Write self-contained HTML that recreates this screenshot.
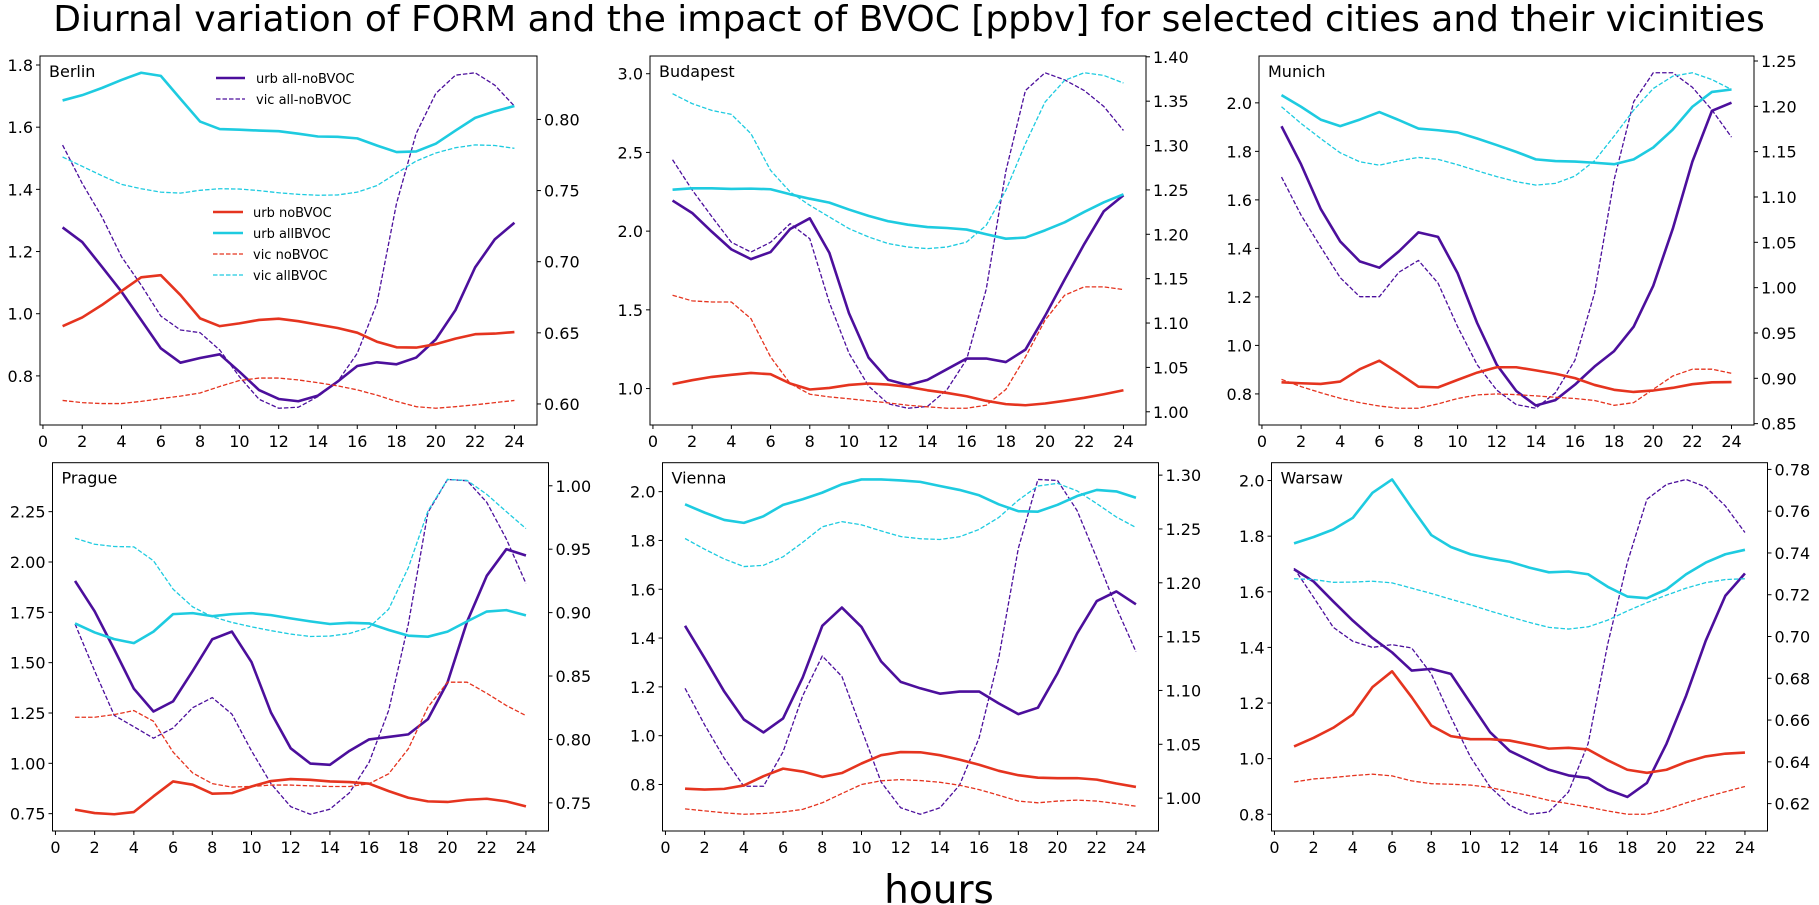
<!DOCTYPE html>
<html><head><meta charset="utf-8">
<style>
html,body{margin:0;padding:0;background:#fff;}
svg{display:block;font-family:"DejaVu Sans","Liberation Sans",sans-serif;}
</style></head>
<body>
<svg id="fig" width="1819" height="905" viewBox="0 0 1819 905" xmlns="http://www.w3.org/2000/svg">
<text x="909" y="31" font-size="36" text-anchor="middle" fill="#000">Diurnal variation of FORM and the impact of BVOC [ppbv] for selected cities and their vicinities</text>
<text x="939" y="903" font-size="39" text-anchor="middle" fill="#000">hours</text>
</svg>
<script>
const hours = [1,2,3,4,5,6,7,8,9,10,11,12,13,14,15,16,17,18,19,20,21,22,23,24];
const xTicks = [0,2,4,6,8,10,12,14,16,18,20,22,24];
const cityNames = ["Berlin","Budapest","Munich","Prague","Vienna","Warsaw"];

// Berlin
const berlinUrbNoBVOC = [0.960,0.988,1.028,1.073,1.117,1.124,1.060,0.985,0.960,0.969,0.980,0.984,0.976,0.965,0.954,0.939,0.910,0.892,0.891,0.902,0.920,0.934,0.936,0.941];
const berlinUrbAllBVOC = [1.686,1.703,1.726,1.752,1.775,1.765,1.691,1.618,1.594,1.592,1.589,1.587,1.579,1.570,1.569,1.564,1.541,1.520,1.522,1.547,1.589,1.630,1.651,1.668];
const berlinVicNoBVOC = [0.721,0.714,0.711,0.711,0.718,0.727,0.735,0.745,0.766,0.785,0.793,0.793,0.787,0.778,0.768,0.755,0.738,0.718,0.701,0.696,0.701,0.707,0.714,0.721];
const berlinVicAllBVOC = [1.504,1.474,1.444,1.416,1.402,1.391,1.388,1.397,1.402,1.401,1.396,1.389,1.384,1.381,1.382,1.391,1.412,1.452,1.491,1.517,1.534,1.543,1.541,1.532];
const berlinUrbDiff = [0.7241,0.7138,0.6965,0.6789,0.6590,0.6391,0.6290,0.6323,0.6349,0.6227,0.6098,0.6035,0.6019,0.6059,0.6157,0.6267,0.6293,0.6279,0.6326,0.6454,0.6660,0.6960,0.7157,0.7274];
const berlinVicDiff = [0.7820,0.7550,0.7316,0.7035,0.6836,0.6618,0.6520,0.6501,0.6379,0.6192,0.6033,0.5970,0.5977,0.6052,0.6157,0.6356,0.6707,0.7410,0.7902,0.8183,0.8311,0.8328,0.8241,0.8094];
const berlinLeftTicks = [0.8,1.0,1.2,1.4,1.6,1.8];
const berlinRightTicks = [0.60,0.65,0.70,0.75,0.80];

// Budapest
const budapestUrbNoBVOC = [1.028,1.053,1.074,1.087,1.099,1.091,1.032,0.994,1.004,1.023,1.032,1.025,1.011,0.989,0.972,0.951,0.922,0.901,0.894,0.905,0.922,0.941,0.964,0.989];
const budapestUrbAllBVOC = [2.263,2.272,2.272,2.268,2.270,2.266,2.234,2.206,2.181,2.137,2.097,2.063,2.041,2.026,2.020,2.010,1.980,1.952,1.959,2.005,2.056,2.122,2.183,2.234];
const budapestVicNoBVOC = [1.593,1.557,1.550,1.550,1.444,1.201,1.032,0.964,0.947,0.935,0.922,0.909,0.894,0.884,0.875,0.875,0.894,0.994,1.201,1.434,1.593,1.646,1.646,1.629];
const budapestVicAllBVOC = [2.873,2.810,2.767,2.742,2.619,2.386,2.249,2.164,2.090,2.016,1.963,1.921,1.899,1.889,1.899,1.931,2.037,2.259,2.556,2.820,2.958,3.006,2.989,2.941];
const budapestUrbDiff = [1.238,1.224,1.203,1.183,1.172,1.180,1.206,1.218,1.179,1.111,1.061,1.036,1.030,1.036,1.048,1.060,1.060,1.056,1.070,1.108,1.149,1.189,1.226,1.244];
const budapestVicDiff = [1.284,1.250,1.220,1.191,1.180,1.191,1.212,1.195,1.123,1.066,1.029,1.009,1.004,1.006,1.025,1.059,1.138,1.271,1.362,1.382,1.374,1.362,1.344,1.317];
const budapestLeftTicks = [1.0,1.5,2.0,2.5,3.0];
const budapestRightTicks = [1.00,1.05,1.10,1.15,1.20,1.25,1.30,1.35,1.40];

// Munich
const munichUrbNoBVOC = [0.848,0.844,0.841,0.851,0.902,0.937,0.885,0.830,0.827,0.858,0.888,0.910,0.910,0.897,0.883,0.865,0.837,0.817,0.808,0.814,0.825,0.840,0.848,0.849];
const munichUrbAllBVOC = [2.032,1.984,1.931,1.904,1.931,1.962,1.929,1.894,1.887,1.878,1.853,1.826,1.798,1.767,1.760,1.758,1.753,1.747,1.767,1.816,1.890,1.984,2.045,2.055];
const munichVicNoBVOC = [0.860,0.830,0.805,0.782,0.764,0.750,0.741,0.741,0.759,0.781,0.796,0.800,0.797,0.792,0.786,0.781,0.773,0.753,0.764,0.819,0.874,0.902,0.902,0.885];
const munichVicAllBVOC = [1.984,1.915,1.853,1.794,1.757,1.743,1.761,1.775,1.767,1.745,1.720,1.696,1.675,1.661,1.668,1.698,1.761,1.863,1.970,2.059,2.110,2.124,2.096,2.055];
const munichUrbDiff = [1.178,1.136,1.087,1.051,1.029,1.022,1.040,1.061,1.056,1.016,0.961,0.915,0.886,0.870,0.876,0.893,0.913,0.930,0.957,1.002,1.065,1.139,1.195,1.204];
const munichVicDiff = [1.122,1.080,1.045,1.011,0.990,0.990,1.017,1.030,1.005,0.957,0.915,0.887,0.871,0.867,0.884,0.920,0.994,1.119,1.205,1.237,1.237,1.221,1.196,1.166];
const munichLeftTicks = [0.8,1.0,1.2,1.4,1.6,1.8,2.0];
const munichRightTicks = [0.85,0.90,0.95,1.00,1.05,1.10,1.15,1.20,1.25];

// Prague
const pragueUrbNoBVOC = [0.770,0.753,0.747,0.758,0.836,0.910,0.894,0.849,0.852,0.885,0.912,0.922,0.918,0.910,0.907,0.899,0.862,0.829,0.811,0.808,0.819,0.824,0.811,0.786];
const pragueUrbAllBVOC = [1.695,1.650,1.617,1.597,1.654,1.741,1.746,1.731,1.741,1.746,1.736,1.720,1.705,1.692,1.698,1.695,1.662,1.634,1.629,1.654,1.705,1.754,1.761,1.735];
const pragueVicNoBVOC = [1.229,1.229,1.242,1.262,1.209,1.056,0.952,0.899,0.882,0.885,0.892,0.892,0.888,0.885,0.885,0.899,0.948,1.072,1.279,1.403,1.403,1.348,1.287,1.237];
const pragueVicAllBVOC = [2.118,2.088,2.077,2.075,2.006,1.865,1.777,1.728,1.700,1.678,1.659,1.642,1.630,1.632,1.645,1.675,1.766,1.972,2.253,2.410,2.405,2.336,2.250,2.166];
const pragueUrbDiff = [0.925,0.901,0.871,0.840,0.822,0.830,0.854,0.879,0.885,0.861,0.821,0.793,0.781,0.780,0.791,0.800,0.802,0.804,0.816,0.845,0.893,0.929,0.950,0.945];
const pragueVicDiff = [0.891,0.854,0.819,0.810,0.801,0.809,0.825,0.833,0.820,0.791,0.765,0.747,0.741,0.745,0.758,0.782,0.823,0.891,0.979,1.005,1.004,0.987,0.958,0.923];
const pragueLeftTicks = [0.75,1.00,1.25,1.50,1.75,2.00,2.25];
const pragueRightTicks = [0.75,0.80,0.85,0.90,0.95,1.00];

// Vienna
const viennaUrbNoBVOC = [0.783,0.779,0.782,0.796,0.834,0.865,0.853,0.831,0.847,0.886,0.920,0.933,0.932,0.920,0.902,0.881,0.856,0.838,0.828,0.826,0.826,0.820,0.804,0.790];
const viennaUrbAllBVOC = [1.948,1.914,1.884,1.872,1.899,1.946,1.969,1.996,2.030,2.050,2.050,2.046,2.040,2.023,2.007,1.985,1.948,1.920,1.918,1.946,1.982,2.007,2.001,1.975];
const viennaVicNoBVOC = [0.700,0.692,0.684,0.678,0.681,0.687,0.698,0.725,0.763,0.800,0.815,0.820,0.816,0.809,0.797,0.779,0.756,0.732,0.725,0.732,0.736,0.732,0.722,0.711];
const viennaVicAllBVOC = [1.808,1.764,1.724,1.693,1.698,1.733,1.792,1.856,1.877,1.864,1.839,1.816,1.807,1.804,1.815,1.845,1.894,1.965,2.023,2.034,2.003,1.951,1.896,1.853];
const viennaUrbDiff = [1.160,1.130,1.099,1.073,1.061,1.074,1.112,1.160,1.177,1.159,1.127,1.108,1.102,1.097,1.099,1.099,1.088,1.078,1.084,1.116,1.153,1.183,1.192,1.180];
const viennaVicDiff = [1.102,1.068,1.037,1.011,1.011,1.043,1.095,1.132,1.113,1.064,1.015,0.991,0.985,0.991,1.012,1.056,1.130,1.232,1.296,1.295,1.267,1.223,1.177,1.136];
const viennaLeftTicks = [0.8,1.0,1.2,1.4,1.6,1.8,2.0];
const viennaRightTicks = [1.00,1.05,1.10,1.15,1.20,1.25,1.30];

// Warsaw
const warsawUrbNoBVOC = [1.044,1.075,1.111,1.159,1.257,1.314,1.221,1.119,1.081,1.070,1.070,1.065,1.051,1.036,1.039,1.033,0.994,0.960,0.949,0.960,0.988,1.008,1.018,1.022];
const warsawUrbAllBVOC = [1.774,1.797,1.824,1.866,1.956,2.004,1.902,1.804,1.761,1.735,1.720,1.708,1.687,1.670,1.673,1.663,1.618,1.583,1.577,1.609,1.663,1.705,1.735,1.751];
const warsawVicNoBVOC = [0.916,0.927,0.932,0.939,0.944,0.938,0.920,0.910,0.908,0.905,0.896,0.881,0.867,0.850,0.838,0.826,0.812,0.800,0.800,0.817,0.841,0.862,0.881,0.900];
const warsawVicAllBVOC = [1.647,1.644,1.634,1.635,1.638,1.632,1.613,1.594,1.573,1.553,1.531,1.510,1.490,1.472,1.466,1.474,1.498,1.531,1.561,1.588,1.613,1.633,1.644,1.647];
const warsawUrbDiff = [0.7322,0.7263,0.7168,0.7076,0.6993,0.6924,0.6837,0.6845,0.6821,0.6681,0.6542,0.6452,0.6407,0.6362,0.6335,0.6323,0.6267,0.6232,0.6299,0.6487,0.6717,0.6980,0.7195,0.7302];
const warsawVicDiff = [0.7327,0.7187,0.7044,0.6977,0.6948,0.6961,0.6945,0.6821,0.6614,0.6423,0.6280,0.6192,0.6149,0.6160,0.6256,0.6487,0.6964,0.7354,0.7657,0.7728,0.7752,0.7716,0.7625,0.7498];
const warsawLeftTicks = [0.8,1.0,1.2,1.4,1.6,1.8,2.0];
const warsawRightTicks = [0.62,0.64,0.66,0.68,0.70,0.72,0.74,0.76,0.78];

const RED = "#e5341f", CYAN = "#1ecbe0", PURPLE = "#4c0f9c";
const svg = document.getElementById("fig");
const NS = "http://www.w3.org/2000/svg";
function mk(tag, attrs, parent) {
  const e = document.createElementNS(NS, tag);
  for (const k in attrs) e.setAttribute(k, attrs[k]);
  (parent || svg).appendChild(e);
  return e;
}

const panels = [
  {name: cityNames[0], box: [40, 56, 497, 369], data: [berlinUrbNoBVOC, berlinUrbAllBVOC, berlinVicNoBVOC, berlinVicAllBVOC, berlinUrbDiff, berlinVicDiff], lt: berlinLeftTicks, rt: berlinRightTicks, ld: 1, rd: 2},
  {name: cityNames[1], box: [650, 56, 496, 369], data: [budapestUrbNoBVOC, budapestUrbAllBVOC, budapestVicNoBVOC, budapestVicAllBVOC, budapestUrbDiff, budapestVicDiff], lt: budapestLeftTicks, rt: budapestRightTicks, ld: 1, rd: 2},
  {name: cityNames[2], box: [1259, 56, 495, 369], data: [munichUrbNoBVOC, munichUrbAllBVOC, munichVicNoBVOC, munichVicAllBVOC, munichUrbDiff, munichVicDiff], lt: munichLeftTicks, rt: munichRightTicks, ld: 1, rd: 2},
  {name: cityNames[3], box: [52.5, 462.7, 496, 368.3], data: [pragueUrbNoBVOC, pragueUrbAllBVOC, pragueVicNoBVOC, pragueVicAllBVOC, pragueUrbDiff, pragueVicDiff], lt: pragueLeftTicks, rt: pragueRightTicks, ld: 2, rd: 2},
  {name: cityNames[4], box: [662.5, 462.7, 496, 368.3], data: [viennaUrbNoBVOC, viennaUrbAllBVOC, viennaVicNoBVOC, viennaVicAllBVOC, viennaUrbDiff, viennaVicDiff], lt: viennaLeftTicks, rt: viennaRightTicks, ld: 1, rd: 2},
  {name: cityNames[5], box: [1271.5, 462.7, 496, 368.3], data: [warsawUrbNoBVOC, warsawUrbAllBVOC, warsawVicNoBVOC, warsawVicAllBVOC, warsawUrbDiff, warsawVicDiff], lt: warsawLeftTicks, rt: warsawRightTicks, ld: 1, rd: 2}
];
const seriesNames = ["urb-noBVOC","urb-allBVOC","vic-noBVOC","vic-allBVOC","urb-all-noBVOC","vic-all-noBVOC"];
const seriesColors = [RED, CYAN, RED, CYAN, PURPLE, PURPLE];
const seriesDashed = [false, false, true, true, false, true];

function domainOf(arrs) {
  let mn = Infinity, mx = -Infinity;
  arrs.forEach(a => a.forEach(v => { if (v < mn) mn = v; if (v > mx) mx = v; }));
  const pad = (mx - mn) * 0.05;
  return [mn - pad, mx + pad];
}

panels.forEach((p, pi) => {
  const [X, Y, W, H] = p.box;
  const slug = p.name.toLowerCase();
  const g = mk("g", {});
  
  
  const xMin = hours[0] - 0.05 * (hours[hours.length-1] - hours[0]);
  const xMax = hours[hours.length-1] + 0.05 * (hours[hours.length-1] - hours[0]);
  const xs = v => X + (v - xMin) / (xMax - xMin) * W;
  const ldom = domainOf(p.data.slice(0, 4));
  const rdom = domainOf(p.data.slice(4, 6));
  const yl = v => Y + H - (v - ldom[0]) / (ldom[1] - ldom[0]) * H;
  const yr = v => Y + H - (v - rdom[0]) / (rdom[1] - rdom[0]) * H;

  const order = [4, 5, 0, 1, 2, 3];
  order.forEach(si => {
    const arr = p.data[si];
    const ys = si >= 4 ? yr : yl;
    const pts = arr.map((v, i) => xs(hours[i]).toFixed(2) + "," + ys(v).toFixed(2)).join(" ");
    const line = mk("polyline", {points: pts, fill: "none", stroke: seriesColors[si],
      "stroke-width": seriesDashed[si] ? 1.3 : 2.6, "stroke-linejoin": "round",
      "stroke-dasharray": seriesDashed[si] ? "4.5,2" : "none"}, g);
    
    
  });

  const frame = mk("rect", {x: X, y: Y, width: W, height: H, fill: "none", stroke: "#000", "stroke-width": 1}, g);
  
  

  xTicks.forEach(t => {
    const x = xs(t);
    mk("line", {x1: x, y1: Y + H, x2: x, y2: Y + H + 4, stroke: "#000", "stroke-width": 1}, g);
    const tl = mk("text", {x: x, y: Y + H + 22, "font-size": 16, "text-anchor": "middle", fill: "#000"}, g);
    tl.textContent = String(t);
    
    
  });
  p.lt.forEach(t => {
    const y = yl(t);
    mk("line", {x1: X - 4, y1: y, x2: X, y2: y, stroke: "#000", "stroke-width": 1}, g);
    const tl = mk("text", {x: X - 7, y: y + 6, "font-size": 16, "text-anchor": "end", fill: "#000"}, g);
    tl.textContent = t.toFixed(p.ld);
    
    
  });
  p.rt.forEach(t => {
    const y = yr(t);
    mk("line", {x1: X + W, y1: y, x2: X + W + 4, y2: y, stroke: "#000", "stroke-width": 1}, g);
    const tl = mk("text", {x: X + W + 7, y: y + 6, "font-size": 16, "text-anchor": "start", fill: "#000"}, g);
    tl.textContent = t.toFixed(p.rd);
    
    
  });
  const cl = mk("text", {x: X + 9, y: Y + 21, "font-size": 16, fill: "#000"}, g);
  cl.textContent = p.name;
  
  

  if (pi === 0) {
    const lg1 = mk("g", {}, g);
    
    
    [["urb all-noBVOC", PURPLE, false], ["vic all-noBVOC", PURPLE, true]].forEach((e, i) => {
      const yy = 78 + i * 21;
      mk("line", {x1: 216, y1: yy, x2: 245, y2: yy, stroke: e[1], "stroke-width": e[2] ? 1.3 : 2.6, "stroke-dasharray": e[2] ? "4.5,2" : "none"}, lg1);
      const t = mk("text", {x: 256, y: yy + 5, "font-size": 13, fill: "#000"}, lg1);
      t.textContent = e[0];
      
      
    });
    const lg2 = mk("g", {}, g);
    
    
    [["urb noBVOC", RED, false], ["urb allBVOC", CYAN, false], ["vic noBVOC", RED, true], ["vic allBVOC", CYAN, true]].forEach((e, i) => {
      const yy = 212 + i * 21;
      mk("line", {x1: 213, y1: yy, x2: 243, y2: yy, stroke: e[1], "stroke-width": e[2] ? 1.3 : 2.6, "stroke-dasharray": e[2] ? "4.5,2" : "none"}, lg2);
      const t = mk("text", {x: 253, y: yy + 5, "font-size": 13, fill: "#000"}, lg2);
      t.textContent = e[0];
      
      
    });
  }
});
</script>
</body></html>
